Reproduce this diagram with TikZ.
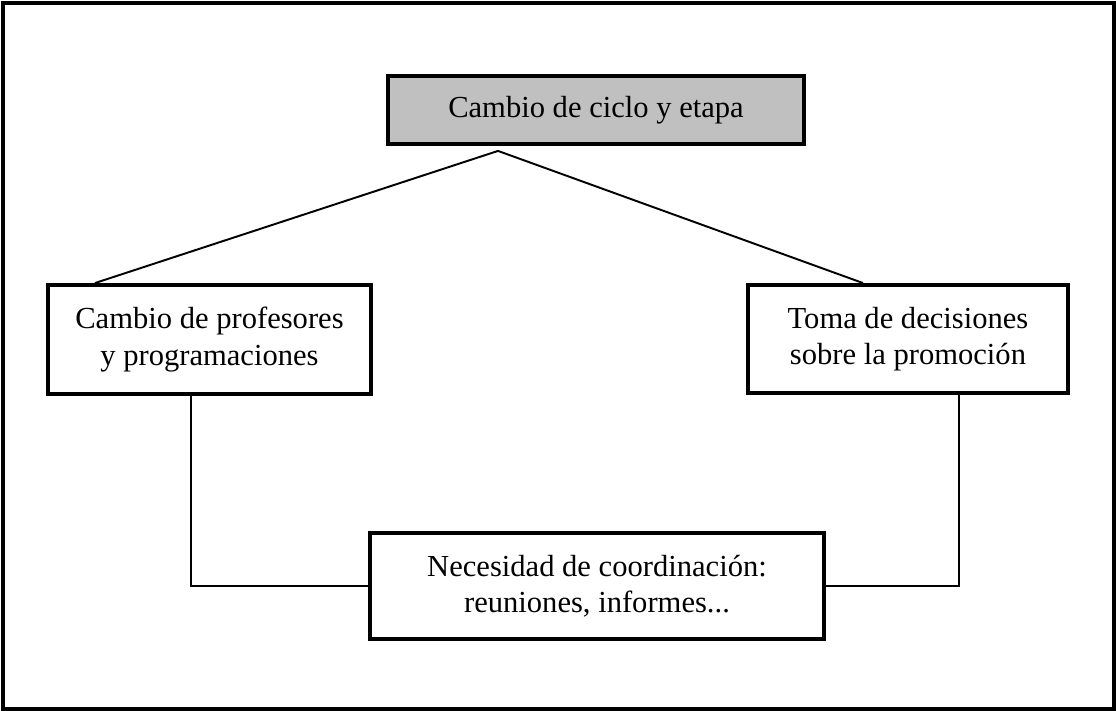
\documentclass[tikz,border=0pt]{standalone}
\usepackage{fontspec}
\setmainfont{Liberation Serif}
\definecolor{cajagris}{RGB}{192,192,192}
\begin{document}
\begin{tikzpicture}[
        caja/.style={draw, line width=1.1pt, align=center, inner sep=0pt,
            font=\fontsize{8.7}{10.3}\selectfont},
        enlace/.style={line width=0.55pt}]
                    \useasboundingbox (0, 0) rectangle (11.16, 7.11);
                    \draw[line width=1pt](0.03, 0.02) rectangle (11.14, 7.08);
                    \node[caja, fill=cajagris, minimum width=4.16cm, minimum height=0.68cm]
                        (ciclo) at (5.96, 6.01){Cambio de ciclo y etapa};
                    \node[caja, minimum width=3.23cm, minimum height=1.09cm]
                        (profes) at (2.095, 3.715){Cambio de profesores\\y programaciones};
                    \node[caja, minimum width=3.20cm, minimum height=1.08cm]
                        (decision) at (9.08, 3.72){Toma de decisiones\\sobre la promoción};
                    \node[caja, minimum width=4.54cm, minimum height=1.06cm]
                        (coord) at (5.97, 1.25){Necesidad de coordinación:\\reuniones, informes...};
                    \coordinate (vertice) at ([xshift=-0.98cm, yshift=-0.05cm]ciclo.south);
                    \draw[enlace](vertice) to ([xshift=-1.145cm]profes.north);
                    \draw[enlace](vertice) to ([xshift=-0.45cm]decision.north);
                    \draw[enlace]([xshift=-0.185cm]profes.south) |- (coord.west);
                    \draw[enlace]([xshift=0.51cm]decision.south) |- (coord.east);
                \end{tikzpicture}
\end{document}
